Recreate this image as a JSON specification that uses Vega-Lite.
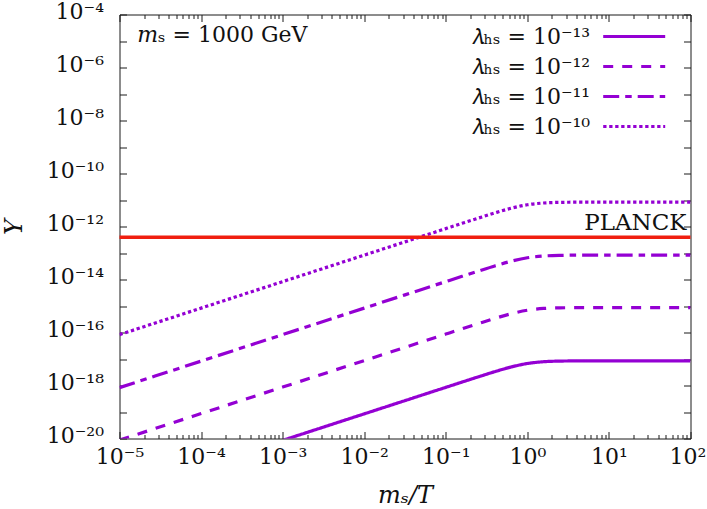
{
  "$schema": "https://vega.github.io/schema/vega-lite/v6.json",
  "width": 571,
  "height": 424,
  "autosize": {"type": "none"},
  "padding": {"left": 119.5, "top": 14.5, "right": 16.5, "bottom": 70.5},
  "background": "white",
  "config": {
    "view": {"stroke": null},
    "font": "DejaVu Serif",
    "axis": {
      "grid": false,
      "domainColor": "#1a1a1a",
      "domainWidth": 1,
      "tickColor": "#1a1a1a",
      "tickWidth": 1,
      "labelFont": "DejaVu Serif",
      "labelFontSize": 22,
      "labelColor": "#111111",
      "labelOverlap": false,
      "labelFlush": false,
      "labelBound": false,
      "titleFont": "DejaVu Serif",
      "titleFontSize": 24,
      "titleFontWeight": "normal",
      "titleFontStyle": "italic",
      "titleColor": "#111111"
    }
  },
  "datasets": {
    "curves": [
      {"series": "𝜆ₕₛ = 10⁻¹³", "x": 1e-5, "Y": 8.51e-23},
      {"series": "𝜆ₕₛ = 10⁻¹³", "x": 1e-4, "Y": 8.51e-22},
      {"series": "𝜆ₕₛ = 10⁻¹³", "x": 1e-3, "Y": 8.51e-21},
      {"series": "𝜆ₕₛ = 10⁻¹³", "x": 0.01, "Y": 8.51e-20},
      {"series": "𝜆ₕₛ = 10⁻¹³", "x": 0.03162, "Y": 2.691e-19},
      {"series": "𝜆ₕₛ = 10⁻¹³", "x": 0.1, "Y": 8.507e-19},
      {"series": "𝜆ₕₛ = 10⁻¹³", "x": 0.1585, "Y": 1.347e-18},
      {"series": "𝜆ₕₛ = 10⁻¹³", "x": 0.2512, "Y": 2.126e-18},
      {"series": "𝜆ₕₛ = 10⁻¹³", "x": 0.3981, "Y": 3.32e-18},
      {"series": "𝜆ₕₛ = 10⁻¹³", "x": 0.631, "Y": 4.983e-18},
      {"series": "𝜆ₕₛ = 10⁻¹³", "x": 1, "Y": 6.754e-18},
      {"series": "𝜆ₕₛ = 10⁻¹³", "x": 1.585, "Y": 7.898e-18},
      {"series": "𝜆ₕₛ = 10⁻¹³", "x": 2.512, "Y": 8.337e-18},
      {"series": "𝜆ₕₛ = 10⁻¹³", "x": 3.981, "Y": 8.465e-18},
      {"series": "𝜆ₕₛ = 10⁻¹³", "x": 6.31, "Y": 8.498e-18},
      {"series": "𝜆ₕₛ = 10⁻¹³", "x": 10, "Y": 8.507e-18},
      {"series": "𝜆ₕₛ = 10⁻¹³", "x": 31.62, "Y": 8.51e-18},
      {"series": "𝜆ₕₛ = 10⁻¹³", "x": 100, "Y": 8.51e-18},

      {"series": "𝜆ₕₛ = 10⁻¹²", "x": 1e-5, "Y": 8.71e-21},
      {"series": "𝜆ₕₛ = 10⁻¹²", "x": 1e-4, "Y": 8.71e-20},
      {"series": "𝜆ₕₛ = 10⁻¹²", "x": 1e-3, "Y": 8.71e-19},
      {"series": "𝜆ₕₛ = 10⁻¹²", "x": 0.01, "Y": 8.71e-18},
      {"series": "𝜆ₕₛ = 10⁻¹²", "x": 0.03162, "Y": 2.754e-17},
      {"series": "𝜆ₕₛ = 10⁻¹²", "x": 0.1, "Y": 8.707e-17},
      {"series": "𝜆ₕₛ = 10⁻¹²", "x": 0.1585, "Y": 1.379e-16},
      {"series": "𝜆ₕₛ = 10⁻¹²", "x": 0.2512, "Y": 2.176e-16},
      {"series": "𝜆ₕₛ = 10⁻¹²", "x": 0.3981, "Y": 3.398e-16},
      {"series": "𝜆ₕₛ = 10⁻¹²", "x": 0.631, "Y": 5.1e-16},
      {"series": "𝜆ₕₛ = 10⁻¹²", "x": 1, "Y": 6.913e-16},
      {"series": "𝜆ₕₛ = 10⁻¹²", "x": 1.585, "Y": 8.084e-16},
      {"series": "𝜆ₕₛ = 10⁻¹²", "x": 2.512, "Y": 8.533e-16},
      {"series": "𝜆ₕₛ = 10⁻¹²", "x": 3.981, "Y": 8.664e-16},
      {"series": "𝜆ₕₛ = 10⁻¹²", "x": 6.31, "Y": 8.698e-16},
      {"series": "𝜆ₕₛ = 10⁻¹²", "x": 10, "Y": 8.707e-16},
      {"series": "𝜆ₕₛ = 10⁻¹²", "x": 31.62, "Y": 8.71e-16},
      {"series": "𝜆ₕₛ = 10⁻¹²", "x": 100, "Y": 8.71e-16},

      {"series": "𝜆ₕₛ = 10⁻¹¹", "x": 1e-5, "Y": 8.32e-19},
      {"series": "𝜆ₕₛ = 10⁻¹¹", "x": 1e-4, "Y": 8.32e-18},
      {"series": "𝜆ₕₛ = 10⁻¹¹", "x": 1e-3, "Y": 8.32e-17},
      {"series": "𝜆ₕₛ = 10⁻¹¹", "x": 0.01, "Y": 8.32e-16},
      {"series": "𝜆ₕₛ = 10⁻¹¹", "x": 0.03162, "Y": 2.631e-15},
      {"series": "𝜆ₕₛ = 10⁻¹¹", "x": 0.1, "Y": 8.318e-15},
      {"series": "𝜆ₕₛ = 10⁻¹¹", "x": 0.1585, "Y": 1.317e-14},
      {"series": "𝜆ₕₛ = 10⁻¹¹", "x": 0.2512, "Y": 2.078e-14},
      {"series": "𝜆ₕₛ = 10⁻¹¹", "x": 0.3981, "Y": 3.246e-14},
      {"series": "𝜆ₕₛ = 10⁻¹¹", "x": 0.631, "Y": 4.871e-14},
      {"series": "𝜆ₕₛ = 10⁻¹¹", "x": 1, "Y": 6.604e-14},
      {"series": "𝜆ₕₛ = 10⁻¹¹", "x": 1.585, "Y": 7.722e-14},
      {"series": "𝜆ₕₛ = 10⁻¹¹", "x": 2.512, "Y": 8.151e-14},
      {"series": "𝜆ₕₛ = 10⁻¹¹", "x": 3.981, "Y": 8.276e-14},
      {"series": "𝜆ₕₛ = 10⁻¹¹", "x": 6.31, "Y": 8.308e-14},
      {"series": "𝜆ₕₛ = 10⁻¹¹", "x": 10, "Y": 8.318e-14},
      {"series": "𝜆ₕₛ = 10⁻¹¹", "x": 31.62, "Y": 8.32e-14},
      {"series": "𝜆ₕₛ = 10⁻¹¹", "x": 100, "Y": 8.32e-14},

      {"series": "𝜆ₕₛ = 10⁻¹⁰", "x": 1e-5, "Y": 8.32e-17},
      {"series": "𝜆ₕₛ = 10⁻¹⁰", "x": 1e-4, "Y": 8.32e-16},
      {"series": "𝜆ₕₛ = 10⁻¹⁰", "x": 1e-3, "Y": 8.32e-15},
      {"series": "𝜆ₕₛ = 10⁻¹⁰", "x": 0.01, "Y": 8.32e-14},
      {"series": "𝜆ₕₛ = 10⁻¹⁰", "x": 0.03162, "Y": 2.631e-13},
      {"series": "𝜆ₕₛ = 10⁻¹⁰", "x": 0.1, "Y": 8.318e-13},
      {"series": "𝜆ₕₛ = 10⁻¹⁰", "x": 0.1585, "Y": 1.317e-12},
      {"series": "𝜆ₕₛ = 10⁻¹⁰", "x": 0.2512, "Y": 2.078e-12},
      {"series": "𝜆ₕₛ = 10⁻¹⁰", "x": 0.3981, "Y": 3.246e-12},
      {"series": "𝜆ₕₛ = 10⁻¹⁰", "x": 0.631, "Y": 4.871e-12},
      {"series": "𝜆ₕₛ = 10⁻¹⁰", "x": 1, "Y": 6.604e-12},
      {"series": "𝜆ₕₛ = 10⁻¹⁰", "x": 1.585, "Y": 7.722e-12},
      {"series": "𝜆ₕₛ = 10⁻¹⁰", "x": 2.512, "Y": 8.151e-12},
      {"series": "𝜆ₕₛ = 10⁻¹⁰", "x": 3.981, "Y": 8.276e-12},
      {"series": "𝜆ₕₛ = 10⁻¹⁰", "x": 6.31, "Y": 8.308e-12},
      {"series": "𝜆ₕₛ = 10⁻¹⁰", "x": 10, "Y": 8.318e-12},
      {"series": "𝜆ₕₛ = 10⁻¹⁰", "x": 31.62, "Y": 8.32e-12},
      {"series": "𝜆ₕₛ = 10⁻¹⁰", "x": 100, "Y": 8.32e-12}
    ],
    "planck": [{"x": 100, "Y": 3.9e-13, "label": "PLANCK"}],
    "note": [{"x": 1.65e-5, "Y": 1.7e-5, "label": "𝑚ₛ = 1000 GeV"}]
  },
  "layer": [
    {
      "data": {"name": "curves"},
      "mark": {"type": "line", "color": "#9400d3", "strokeWidth": 3.2, "clip": true, "interpolate": "monotone"},
      "encoding": {
        "x": {
          "field": "x",
          "type": "quantitative",
          "scale": {"type": "log", "domain": [1e-5, 100], "nice": false},
          "axis": {
            "orient": "bottom",
            "values": [1e-5, 2e-5, 3e-5, 4e-5, 5e-5, 6e-5, 7e-5, 8e-5, 9e-5,
                       1e-4, 2e-4, 3e-4, 4e-4, 5e-4, 6e-4, 7e-4, 8e-4, 9e-4,
                       0.001, 0.002, 0.003, 0.004, 0.005, 0.006, 0.007, 0.008, 0.009,
                       0.01, 0.02, 0.03, 0.04, 0.05, 0.06, 0.07, 0.08, 0.09,
                       0.1, 0.2, 0.3, 0.4, 0.5, 0.6, 0.7, 0.8, 0.9,
                       1, 2, 3, 4, 5, 6, 7, 8, 9,
                       10, 20, 30, 40, 50, 60, 70, 80, 90, 100],
            "tickSize": {"condition": {"test": "abs(log(datum.value)/LN10 - round(log(datum.value)/LN10)) < 0.001", "value": -7}, "value": -4},
            "labelPadding": 15,
            "labelOffset": {"condition": {"test": "datum.value > 99", "value": -3}, "value": 0},
            "labelExpr": "abs(log(datum.value)/LN10 - round(log(datum.value)/LN10)) < 0.001 ? '10' + (round(log(datum.value)/LN10) < 0 ? '⁻' : '') + substring('⁰¹²³⁴⁵⁶⁷⁸⁹', abs(round(log(datum.value)/LN10)) % 10, abs(round(log(datum.value)/LN10)) % 10 + 1) : ''",
            "title": "mₛ/T",
            "titlePadding": 13
          }
        },
        "y": {
          "field": "Y",
          "type": "quantitative",
          "scale": {"type": "log", "domain": [1e-20, 1e-4], "nice": false},
          "axis": {
            "orient": "left",
            "values": [1e-20, 1e-19, 1e-18, 1e-17, 1e-16, 1e-15, 1e-14, 1e-13, 1e-12, 1e-11, 1e-10, 1e-9, 1e-8, 1e-7, 1e-6, 1e-5, 1e-4],
            "tickSize": -7,
            "labelPadding": 23,
            "labelOffset": -3,
            "labelExpr": "abs(round(log(datum.value)/LN10)) % 2 == 0 ? '10⁻' + (abs(round(log(datum.value)/LN10)) >= 10 ? substring('⁰¹²³⁴⁵⁶⁷⁸⁹', floor(abs(round(log(datum.value)/LN10))/10), floor(abs(round(log(datum.value)/LN10))/10) + 1) : '') + substring('⁰¹²³⁴⁵⁶⁷⁸⁹', abs(round(log(datum.value)/LN10)) % 10, abs(round(log(datum.value)/LN10)) % 10 + 1) : ''",
            "title": "Y",
            "titlePadding": 20
          }
        },
        "strokeDash": {
          "field": "series",
          "type": "nominal",
          "scale": {
            "domain": ["𝜆ₕₛ = 10⁻¹³", "𝜆ₕₛ = 10⁻¹²", "𝜆ₕₛ = 10⁻¹¹", "𝜆ₕₛ = 10⁻¹⁰"],
            "range": [[1, 0], [10, 9], [16, 6, 6.5, 6], [3.3, 2.7]]
          },
          "legend": {
            "title": null,
            "orient": "none",
            "legendX": 502.7,
            "legendY": 10,
            "padding": 0,
            "symbolType": "M-3,0H3",
            "symbolSize": 427,
            "symbolStrokeWidth": 3.2,
            "symbolStrokeColor": "#9400d3",
            "labelFont": "DejaVu Serif",
            "labelFontSize": 22,
            "labelColor": "#111111",
            "labelAlign": "right",
            "labelOffset": -56,
            "labelLimit": 400,
            "rowPadding": 7
          }
        }
      }
    },
    {
      "data": {"name": "planck"},
      "mark": {"type": "point", "opacity": 0},
      "encoding": {
        "x": {
          "field": "x",
          "type": "quantitative",
          "axis": {
            "orient": "top",
            "values": [1e-5, 2e-5, 3e-5, 4e-5, 5e-5, 6e-5, 7e-5, 8e-5, 9e-5,
                       1e-4, 2e-4, 3e-4, 4e-4, 5e-4, 6e-4, 7e-4, 8e-4, 9e-4,
                       0.001, 0.002, 0.003, 0.004, 0.005, 0.006, 0.007, 0.008, 0.009,
                       0.01, 0.02, 0.03, 0.04, 0.05, 0.06, 0.07, 0.08, 0.09,
                       0.1, 0.2, 0.3, 0.4, 0.5, 0.6, 0.7, 0.8, 0.9,
                       1, 2, 3, 4, 5, 6, 7, 8, 9,
                       10, 20, 30, 40, 50, 60, 70, 80, 90, 100],
            "tickSize": {"condition": {"test": "abs(log(datum.value)/LN10 - round(log(datum.value)/LN10)) < 0.001", "value": -7}, "value": -4},
            "labels": false,
            "title": null
          }
        },
        "y": {
          "field": "Y",
          "type": "quantitative",
          "axis": {
            "orient": "right",
            "values": [1e-20, 1e-19, 1e-18, 1e-17, 1e-16, 1e-15, 1e-14, 1e-13, 1e-12, 1e-11, 1e-10, 1e-9, 1e-8, 1e-7, 1e-6, 1e-5, 1e-4],
            "tickSize": -7,
            "labels": false,
            "title": null
          }
        }
      }
    },
    {
      "data": {"name": "planck"},
      "mark": {"type": "rule", "color": "#f01e0f", "strokeWidth": 3.5},
      "encoding": {
        "y": {"field": "Y", "type": "quantitative", "axis": null}
      }
    },
    {
      "data": {"name": "planck"},
      "mark": {"type": "text", "align": "right", "baseline": "alphabetic", "dx": -4, "dy": -7, "font": "DejaVu Serif", "fontSize": 23, "color": "#111111"},
      "encoding": {
        "x": {"field": "x", "type": "quantitative", "axis": null},
        "y": {"field": "Y", "type": "quantitative", "axis": null},
        "text": {"field": "label"}
      }
    },
    {
      "data": {"name": "note"},
      "mark": {"type": "text", "align": "left", "baseline": "middle", "font": "DejaVu Serif", "fontSize": 22, "color": "#111111"},
      "encoding": {
        "x": {"field": "x", "type": "quantitative", "axis": null},
        "y": {"field": "Y", "type": "quantitative", "axis": null},
        "text": {"field": "label"}
      }
    }
  ],
  "resolve": {"axis": {"x": "independent", "y": "independent"}}
}
